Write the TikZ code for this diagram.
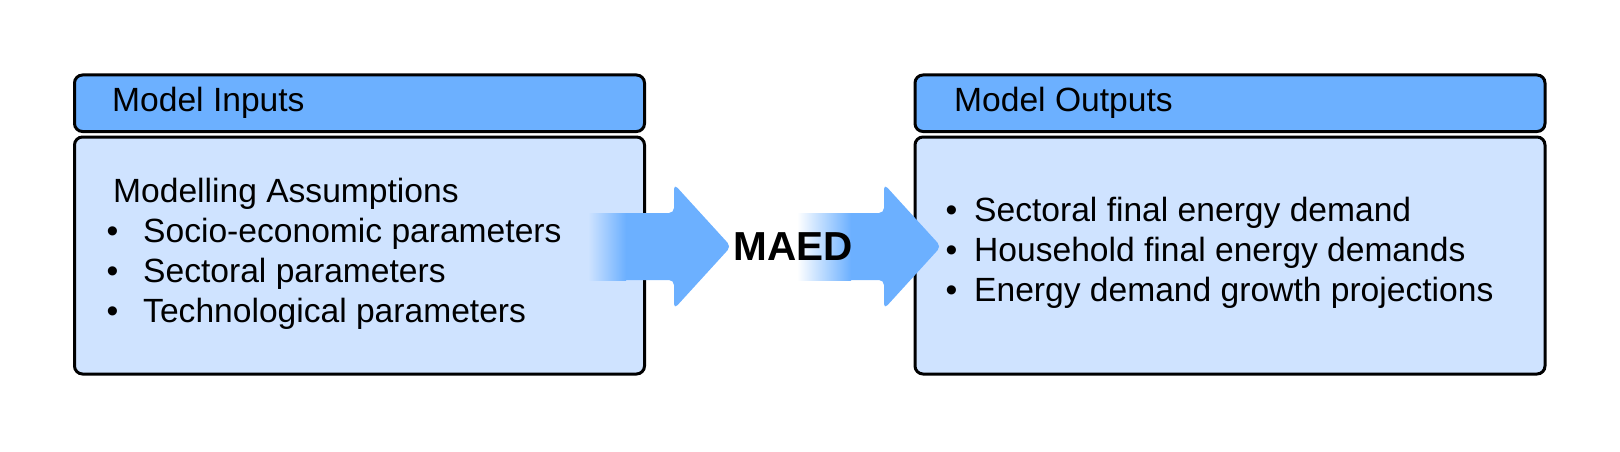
\documentclass[tikz,border=0pt]{standalone}
\usepackage{fontspec}
\setmainfont{Liberation Sans}
\definecolor{headblue}{RGB}{108,176,255}
\definecolor{bodyblue}{RGB}{207,227,255}
\tikzset{
  headbox/.style={draw=black, line width=3pt, rounded corners=8pt, fill=headblue, inner sep=0pt},
  bodybox/.style={draw=black, line width=3pt, rounded corners=8pt, fill=bodyblue, inner sep=0pt},
  txt/.style={anchor=base west, inner sep=0pt, font=\fontsize{33.6}{40}\selectfont},
  bul/.style={anchor=base, inner sep=0pt, font=\fontsize{33.6}{40}\selectfont},
  arrowfill/.style={fill=headblue, rounded corners=5pt},
}
\begin{document}
\begin{tikzpicture}[x=1pt, y=-1pt]
\useasboundingbox (0,0) rectangle (1620,452);
% left box
\node[headbox, minimum width=570pt, minimum height=56.5pt] (inhead) at (359.5,103.25) {};
\node[bodybox, minimum width=570pt, minimum height=237pt] (inbody) at (359.5,255.5) {};
\node[txt] (intitle) at (112,111) {Model Inputs};
\node[txt] (assump) at (113,202) {Modelling Assumptions};
\node[bul] (ib1) at (112.5,242) {•};
\node[bul] (ib2) at (112.5,282) {•};
\node[bul] (ib3) at (112.5,322) {•};
\node[txt] (in1) at (143,242) {Socio-economic parameters};
\node[txt] (in2) at (143,282) {Sectoral parameters};
\node[txt] (in3) at (143,322) {Technological parameters};
% right box
\node[headbox, minimum width=630pt, minimum height=56.5pt] (outhead) at (1230,103.25) {};
\node[bodybox, minimum width=630pt, minimum height=237pt] (outbody) at (1230,255.5) {};
\node[txt] (outtitle) at (954,111) {Model Outputs};
\node[bul] (ob1) at (951.5,221.7) {•};
\node[bul] (ob2) at (951.5,261.7) {•};
\node[bul] (ob3) at (951.5,301.7) {•};
\node[txt] (out1) at (974,221.7) {Sectoral final energy demand};
\node[txt] (out2) at (974,261.7) {Household final energy demands};
\node[txt] (out3) at (974,301.7) {Energy demand growth projections};
% arrow 1
\fill[arrowfill] (620,213) -- (674,213) -- (674,184) -- (731,246.5) -- (674,309) -- (674,280) -- (620,280) -- cycle;
\fill[left color=bodyblue, right color=headblue] (588,213) rectangle (626,280);
% arrow 2
\fill[arrowfill] (845,213) -- (884,213) -- (884,184) -- (941,246.5) -- (884,309) -- (884,280) -- (845,280) -- cycle;
\fill[left color=white, right color=headblue] (797,213) rectangle (851,280);
% MAED
\node[anchor=base, inner sep=0pt, font=\fontsize{40.5}{48}\selectfont\bfseries] (maed) at (793,260) {MAED};
\end{tikzpicture}
\end{document}
